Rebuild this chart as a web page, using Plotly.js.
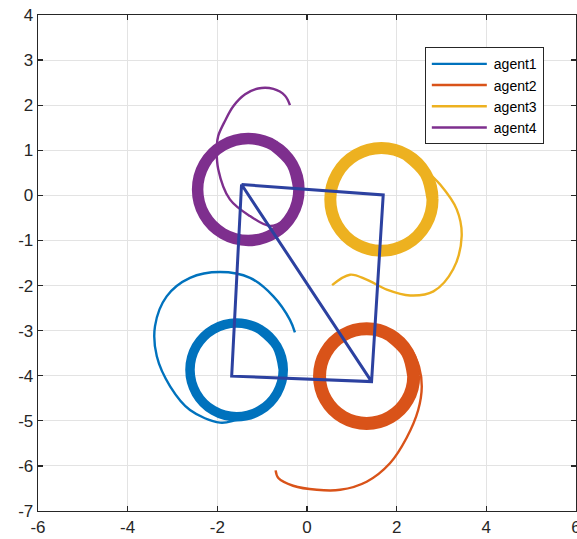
<!DOCTYPE html>
<html>
<head>
<meta charset="utf-8">
<script src="https://cdn.plot.ly/plotly-3.0.1.min.js"></script>
<style>html,body{margin:0;padding:0;background:#fff;}#chart{width:577px;height:539px;}</style>
</head>
<body>
<div id="chart"></div>
<script>
// ---- data ----
const agentNames = ["agent1", "agent2", "agent3", "agent4"];
const agentColors = ["#0072BD", "#D95319", "#EDB120", "#7E2F8E"];

// approach tails (start -> joining the orbit)
const agent1TailX = [-0.27, -0.38, -0.75, -1.27, -1.94, -2.61, -3.13, -3.39, -3.35, -3.05, -2.61, -1.94, -1.57, -1.00];
const agent1TailY = [-3.04, -2.76, -2.24, -1.83, -1.70, -1.83, -2.24, -2.90, -3.57, -4.24, -4.76, -5.04, -4.98, -4.82];
const agent2TailX = [-0.70, -0.64, -0.31, 0.22, 0.74, 1.33, 1.85, 2.22, 2.48, 2.56, 2.50, 2.35];
const agent2TailY = [-6.10, -6.27, -6.44, -6.53, -6.53, -6.35, -5.94, -5.38, -4.76, -4.24, -3.80, -3.45];
const agent3TailX = [0.56, 0.96, 1.33, 1.78, 2.30, 2.82, 3.26, 3.45, 3.34, 2.97, 2.65];
const agent3TailY = [-1.99, -1.76, -1.87, -2.09, -2.22, -2.13, -1.64, -0.90, -0.31, 0.24, 0.55];
const agent4TailX = [-0.38, -0.49, -0.75, -1.09, -1.38, -1.64, -1.83, -1.98, -2.01, -1.98, -1.72, -1.27, -0.82, -0.50];
const agent4TailY = [2.00, 2.21, 2.36, 2.37, 2.24, 1.98, 1.65, 1.32, 1.10, 0.58, -0.09, -0.46, -0.68, -0.55];

// settled orbits (band of repeated loops)
const agent1RingX = [-0.53, -0.67, -1.05, -1.57, -2.09, -2.47, -2.61, -2.47, -2.09, -1.57, -1.05, -0.67, -0.53, -0.67, -1.05];
const agent1RingY = [-3.87, -3.35, -2.97, -2.83, -2.97, -3.35, -3.87, -4.39, -4.77, -4.91, -4.77, -4.39, -3.87, -3.35, -2.97];
const agent2RingX = [2.38, 2.24, 1.855, 1.33, 0.805, 0.42, 0.28, 0.42, 0.805, 1.33, 1.855, 2.24, 2.38, 2.24, 1.855];
const agent2RingY = [-4.01, -3.485, -3.10, -2.96, -3.10, -3.485, -4.01, -4.535, -4.92, -5.06, -4.92, -4.535, -4.01, -3.485, -3.10];
const agent3RingX = [2.80, 2.647, 2.23, 1.66, 1.09, 0.673, 0.52, 0.673, 1.09, 1.66, 2.23, 2.647, 2.80, 2.647, 2.23];
const agent3RingY = [-0.09, 0.48, 0.897, 1.05, 0.897, 0.48, -0.09, -0.66, -1.077, -1.23, -1.077, -0.66, -0.09, 0.48, 0.897];
const agent4RingX = [-0.18, -0.331, -0.745, -1.31, -1.875, -2.289, -2.44, -2.289, -1.875, -1.31, -0.745, -0.331, -0.18, -0.331, -0.745];
const agent4RingY = [0.13, 0.695, 1.109, 1.26, 1.109, 0.695, 0.13, -0.435, -0.849, -1.00, -0.849, -0.435, 0.13, 0.695, 1.109];

// formation polygon
const formationX = [-1.46, 1.70, 1.44, -1.68, -1.46, 1.44];
const formationY = [0.24, 0.01, -4.13, -4.01, 0.24, -4.13];

const xTicks = [-6, -4, -2, 0, 2, 4, 6];
const yTicks = [-7, -6, -5, -4, -3, -2, -1, 0, 1, 2, 3, 4];

// ---- build traces ----
const tails = [[agent1TailX, agent1TailY], [agent2TailX, agent2TailY], [agent3TailX, agent3TailY], [agent4TailX, agent4TailY]];
const rings = [[agent1RingX, agent1RingY], [agent2RingX, agent2RingY], [agent3RingX, agent3RingY], [agent4RingX, agent4RingY]];
const ringWidths = [9.5, 13, 12, 11.5];

const traces = [];
for (let i = 0; i < 4; i++) {
  traces.push({
    x: rings[i][0], y: rings[i][1], type: "scatter", mode: "lines",
    line: {color: agentColors[i], width: ringWidths[i], shape: "spline", smoothing: 1},
    showlegend: false, legendgroup: agentNames[i], hoverinfo: "skip"
  });
  traces.push({
    x: tails[i][0], y: tails[i][1], type: "scatter", mode: "lines",
    name: agentNames[i], legendgroup: agentNames[i],
    line: {color: agentColors[i], width: 2.4, shape: "spline", smoothing: 1}
  });
}
traces.push({
  x: formationX, y: formationY, type: "scatter", mode: "lines",
  line: {color: "#2c41a0", width: 3}, showlegend: false
});

const axisCommon = {
  showline: true, linecolor: "#262626", linewidth: 1.3, mirror: "ticks",
  ticks: "inside", ticklen: 5, tickwidth: 1.3, tickcolor: "#262626",
  showgrid: true, gridcolor: "#e3e3e3", gridwidth: 1, zeroline: false,
  tickfont: {family: "Liberation Sans, Arial, sans-serif", size: 17, color: "#262626"},
  ticklabeloverflow: "allow",
  automargin: false, fixedrange: true
};

const layout = {
  width: 577, height: 539,
  margin: {l: 38, r: 1, t: 15, b: 28, pad: 0},
  paper_bgcolor: "#ffffff", plot_bgcolor: "#ffffff",
  xaxis: Object.assign({}, axisCommon, {range: [-6, 6], tickvals: xTicks, ticktext: xTicks.map(String)}),
  yaxis: Object.assign({}, axisCommon, {range: [-7, 4], tickvals: yTicks, ticktext: yTicks.map(String)}),
  legend: {
    x: 0.719, y: 0.935, xanchor: "left", yanchor: "top",
    bgcolor: "#ffffff", bordercolor: "#262626", borderwidth: 1,
    font: {family: "Liberation Sans, Arial, sans-serif", size: 14, color: "#000"},
    tracegroupgap: 0, itemwidth: 58
  },
  showlegend: true
};

Plotly.newPlot("chart", traces, layout, {staticPlot: true, displayModeBar: false}).then(function () {
  // lengthen the legend line samples to match the reference legend
  document.querySelectorAll(".legend .legendlines path").forEach(function (p) {
    p.setAttribute("d", "M6,0h55");
  });
});
</script>
</body>
</html>
